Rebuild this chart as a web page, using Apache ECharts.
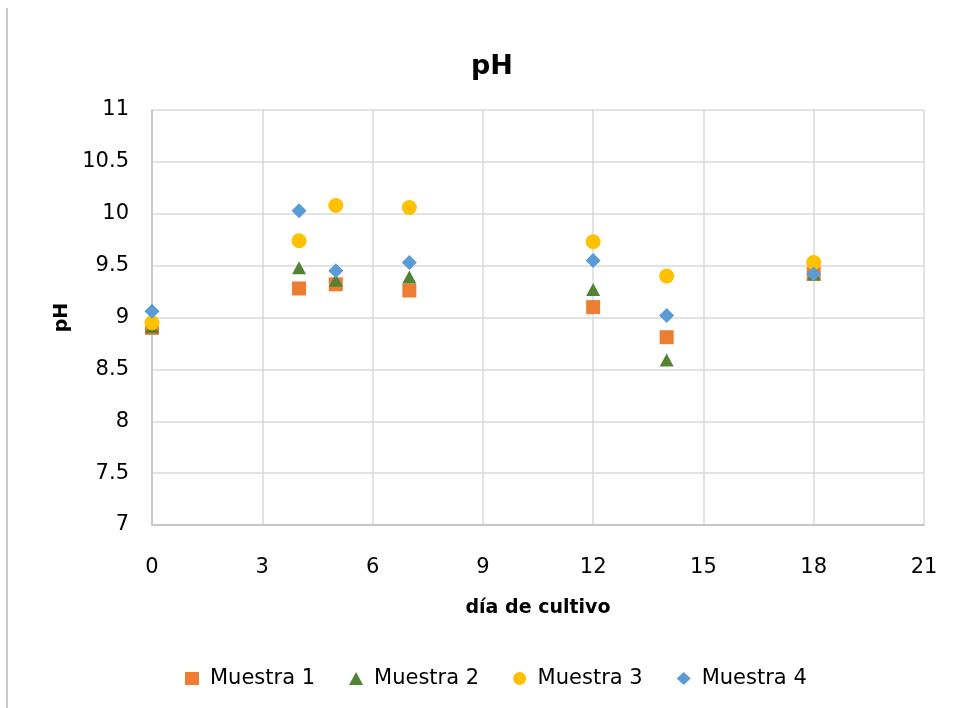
<!DOCTYPE html>
<html>
<head>
<meta charset="utf-8">
<script src="https://cdn.jsdelivr.net/npm/echarts@6/dist/echarts.min.js"></script>
<style>html,body{margin:0;padding:0;background:#fff;}#c{width:959px;height:708px;}</style>
</head>
<body>
<div id="c"></div>
<script>
const days = [0, 4, 5, 7, 12, 14, 18];
const muestra1 = [8.90, 9.28, 9.32, 9.26, 9.10, 8.81, 9.42];
const muestra2 = [8.91, 9.48, 9.36, 9.39, 9.27, 8.59, 9.42];
const muestra3 = [8.95, 9.74, 10.08, 10.06, 9.73, 9.40, 9.53];
const muestra4 = [9.06, 10.03, 9.45, 9.53, 9.55, 9.02, 9.42];
const seriesNames = ['Muestra 1', 'Muestra 2', 'Muestra 3', 'Muestra 4'];

const FONT = '"DejaVu Sans", sans-serif';
const chart = echarts.init(document.getElementById('c'));
const pair = arr => days.map((d, i) => [d, arr[i]]);

chart.setOption({
  animation: false,
  textStyle: { fontFamily: FONT },
  title: {
    text: 'pH', left: 487, top: 48, textAlign: 'center',
    textStyle: { fontSize: 27, fontWeight: 'bold', color: '#000', fontFamily: FONT }
  },
  grid: { left: 152, right: 35, top: 110, bottom: 183 },
  legend: {
    bottom: 14, left: 180, itemWidth: 14, itemHeight: 13, itemGap: 34,
    textStyle: { fontSize: 21, color: '#000', fontFamily: FONT, padding: [0, 0, 0, 6] },
    data: seriesNames
  },
  xAxis: {
    type: 'value', min: 0, max: 21, interval: 3,
    name: 'día de cultivo', nameLocation: 'middle', nameGap: 74,
    nameTextStyle: { fontSize: 19, fontWeight: 'bold', color: '#000', fontFamily: FONT },
    axisLine: { show: true, lineStyle: { color: '#bfbfbf', width: 1.5 } },
    axisTick: { show: false },
    axisLabel: { fontSize: 21, color: '#000', margin: 32, fontFamily: FONT },
    splitLine: { show: true, lineStyle: { color: '#d9d9d9', width: 1.5 } }
  },
  yAxis: {
    type: 'value', min: 7, max: 11, interval: 0.5,
    name: 'pH', nameLocation: 'middle', nameGap: 76, nameRotate: 90,
    nameTextStyle: { fontSize: 19, fontWeight: 'bold', color: '#000', fontFamily: FONT },
    axisLine: { show: true, lineStyle: { color: '#bfbfbf', width: 1.5 } },
    axisTick: { show: false },
    axisLabel: { fontSize: 21, color: '#000', margin: 23, fontFamily: FONT },
    splitLine: { show: true, lineStyle: { color: '#d9d9d9', width: 1.5 } }
  },
  graphic: [{
    type: 'line', shape: { x1: 7, y1: 8, x2: 7, y2: 708 },
    style: { stroke: '#b3b3b3', lineWidth: 1.5 }
  }],
  series: [
    { name: seriesNames[0], type: 'scatter', symbol: 'rect', symbolSize: 14,
      itemStyle: { color: '#ed7d31', opacity: 1 }, data: pair(muestra1) },
    { name: seriesNames[1], type: 'scatter', symbol: 'triangle', symbolSize: [14, 13],
      itemStyle: { color: '#548235', opacity: 1 }, data: pair(muestra2) },
    { name: seriesNames[2], type: 'scatter', symbol: 'circle', symbolSize: 15,
      itemStyle: { color: '#ffc000', opacity: 1 }, data: pair(muestra3) },
    { name: seriesNames[3], type: 'scatter', symbol: 'diamond', symbolSize: 15,
      itemStyle: { color: '#5b9bd5', opacity: 1 }, data: pair(muestra4) }
  ]
});
</script>
</body>
</html>
